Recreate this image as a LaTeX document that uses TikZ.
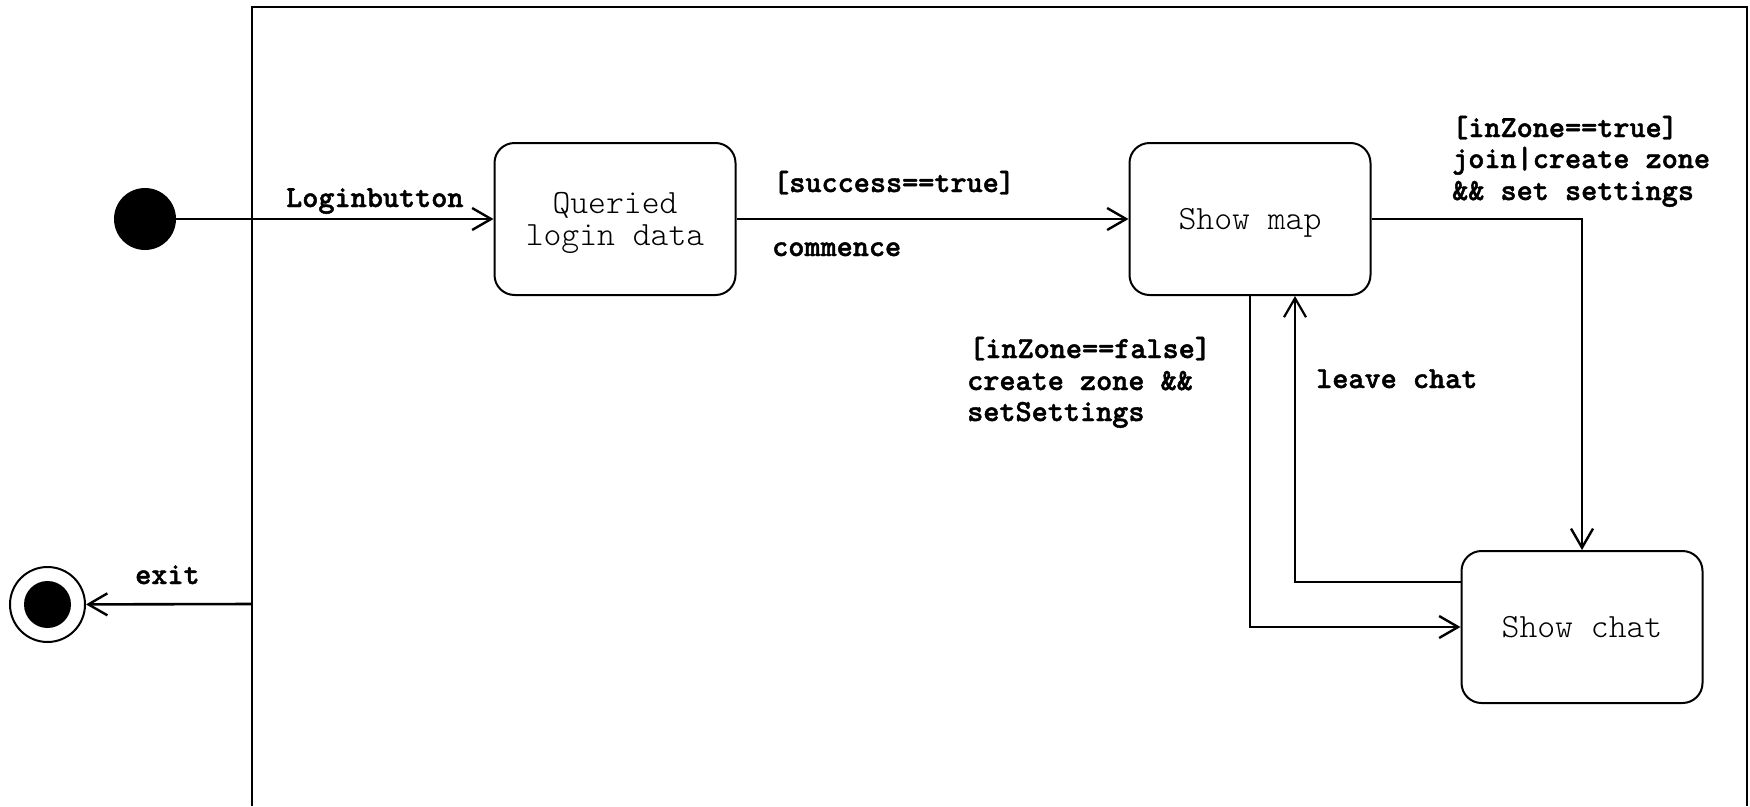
\documentclass[tikz,border=0pt]{standalone}
\usepackage{fontspec}
\newfontfamily\lblfont{lmmonolt10-bold.otf}[FakeBold=1.5]
\usetikzlibrary{arrows.meta}
\begin{document}
\begin{tikzpicture}[x=1pt,y=-1pt,
  statebox/.style={draw, line width=2pt, rounded corners=20pt, minimum width=241pt, minimum height=152pt, align=center, inner sep=0pt,
    text depth=0pt, font=\ttfamily\fontseries{l}\fontsize{34}{32}\selectfont},
  arr/.style={line width=2.6pt, -{Straight Barb[length=19pt,width=22pt,line width=2.4pt]}},
  thinarr/.style={line width=2pt, -{Straight Barb[length=19pt,width=22pt,line width=2.2pt]}},
  frameline/.style={line width=1.8pt},
  lbl/.style={font=\lblfont\fontsize{30.7}{31.6}\selectfont, inner sep=0pt, anchor=base west}]
\useasboundingbox (0,0) rectangle (1750,806);
% frame
\draw[frameline] (252,806) -- (252,7) -- (1747,7) -- (1747,806);
% states
\node[circle, fill=black, minimum size=62pt, inner sep=0pt] (init) at (145,219) {};
\node[statebox] (q) at (615,219) {Queried\\login data};
\node[statebox] (map) at (1250,219) {Show map};
\node[statebox] (chat) at (1582,627) {Show chat};
\node[circle, draw, line width=2pt, minimum size=75pt, inner sep=0pt] (fin) at (47.5,604.5) {};
\node[circle, fill=black, minimum size=47pt, inner sep=0pt] (finc) at (fin) {};
\coordinate (fx) at (252,604);
% connectors
\draw[arr] (init) -- (q);
\draw[arr] (q) -- (map);
\draw[arr] (map.east) -| (chat.north);
\draw[arr] (map.south) |- (chat.west);
\draw[thinarr] ([yshift=45pt]chat.west) -| ([xshift=45pt]map.south);
\draw[arr] (fx) -- (fin);
% labels
\node[lbl] (l1) at (286,207) {Loginbutton};
\node[lbl] (l2) at (773,192) {[success==true]};
\node[lbl] (l3) at (772,256) {commence};
\node[lbl] (l4a) at (1452,137) {[inZone==true]};
\node[lbl] (l4b) at (1452,168) {join|create zone};
\node[lbl] (l4c) at (1452,200) {\&\& set settings};
\node[lbl] (l5a) at (969,358) {[inZone==false]};
\node[lbl] (l5b) at (967,390) {create zone \&\&};
\node[lbl] (l5c) at (967,421) {setSettings};
\node[lbl] (l6) at (1316,388) {leave chat};
\node[lbl] (l7) at (135,584) {exit};
\end{tikzpicture}
\end{document}
